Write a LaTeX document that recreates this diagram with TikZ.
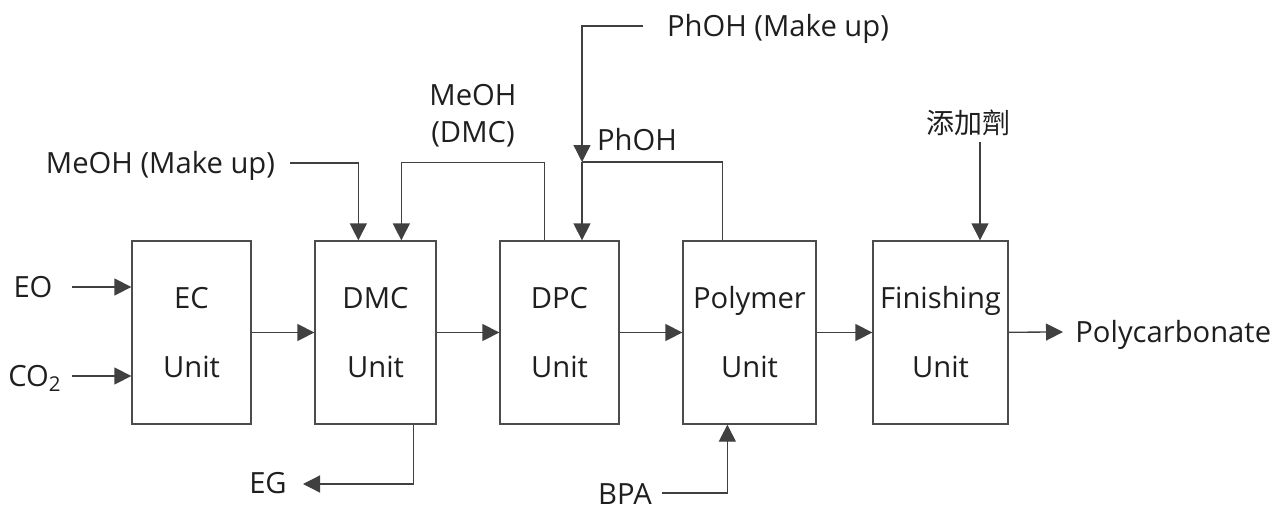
\documentclass[tikz,border=0pt]{standalone}
\usepackage{fontspec}
\setmainfont{Open Sans}
\newfontfamily\cjk{Noto Sans CJK TC}
\usetikzlibrary{arrows.meta}

\begin{document}
\begin{tikzpicture}[x=0.5pt, y=-0.5pt,
        unit/.style={draw=black!70, line width=0.65pt, inner sep=0pt, minimum height=91.5pt,
            align=center, text=black!88, font=\fontsize{14.6}{34.5}\selectfont},
        lbl/.style={inner sep=0pt, text height=10.4pt, text depth=0pt, text=black!88,
            font=\fontsize{14.6}{18.5}\selectfont},
        flow/.style={draw=black!75, line width=0.65pt, -{Triangle[length=8.5pt, width=8.5pt]}},
        pipe/.style={draw=black!75, line width=0.65pt}]
        \useasboundingbox (0,0) rectangle (1285,509);

        % Draw units
        \node[unit, minimum width=59.5pt] (ec) at (191.5,332.5) {EC\\Unit};
        \node[unit, minimum width=60.5pt] (dmc) at (375.5,332.5) {DMC\\Unit};
        \node[unit, minimum width=59.5pt] (dpc) at (559.5,332.5) {DPC\\Unit};
        \node[unit, minimum width=66.5pt] (poly) at (749.5,332.5) {Polymer\\Unit};
        \node[unit, minimum width=67.5pt] (fin) at (940.5,332.5) {Finishing\\Unit};

        % Labels
        \node[lbl] (eo) at (33,287) {EO};
        \node[lbl] (co2) at (35,376) {CO\textsubscript{2}};
        \node[lbl] (meohmk) at (160.5,163) {MeOH (Make up)};
        \node[align=center, inner sep=0pt, text=black!88, font=\fontsize{14.6}{18.5}\selectfont] (meohdmc) at (473,116) {MeOH\\(DMC)};
        \node[lbl] (phmk) at (778,26) {PhOH (Make up)};
        \node[lbl] (phoh) at (637,140) {PhOH};
        \node[lbl, font=\cjk\fontsize{14}{18.5}\selectfont] (add) at (968,123) {添加劑};
        \node[lbl] (eg) at (268,483) {EG};
        \node[lbl] (bpa) at (625,494) {BPA};
        \node[lbl, anchor=west] (pc) at (1075,332) {Polycarbonate};

        % Free ends
        \coordinate (eoS) at (72,287);
        \coordinate (co2S) at (72,376);
        \coordinate (meohS) at (290,163);
        \coordinate (phS) at (643,26);
        \coordinate (phJ) at (582,162);
        \coordinate (addS) at (980,142);
        \coordinate (egE) at (303,484);
        \coordinate (bpaS) at (662,493);

        % Draw connections
        \draw[flow] (eoS) -- (eoS -| ec.west);
        \draw[flow] (co2S) -- (co2S -| ec.west);
        \draw[flow] (ec) -- (dmc);
        \draw[flow] (dmc) -- (dpc);
        \draw[flow] (dpc) -- (poly);
        \draw[flow] (poly) -- (fin);
        \draw[flow] (fin) -- ([xshift=-6pt]pc.west);

        % Recycles and make up
        \draw[flow] (meohS) -| ([xshift=22pt]dmc.north west);
        \draw[flow] ([xshift=22.5pt]dpc.north west) -- ++(0,-78) -| ([xshift=43.5pt]dmc.north west);
        \draw[flow] (phS) -| (phJ);
        \draw[flow] (phJ) -- (phJ |- dpc.north);
        \draw[pipe] ([xshift=20pt]poly.north west) |- (phJ);
        \draw[flow] (addS) -- (addS |- fin.north);
        \draw[flow] ([xshift=49.5pt]dmc.south west) |- (egE);
        \draw[flow] (bpaS) -| ([xshift=22.5pt]poly.south west);
    \end{tikzpicture}
\end{document}
